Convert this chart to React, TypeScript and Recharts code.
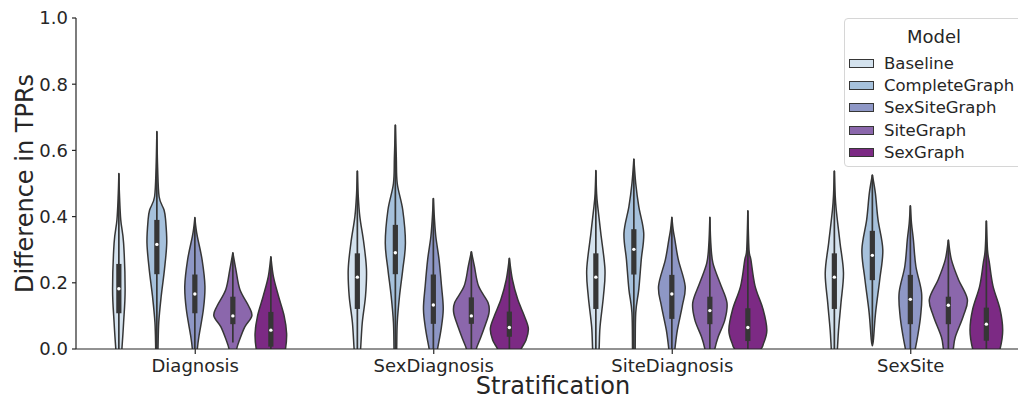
import React from 'react';
import { BarChart, Bar, XAxis, YAxis, Legend } from 'recharts';

const groups = ['Diagnosis', 'SexDiagnosis', 'SiteDiagnosis', 'SexSite'];
const models = ['Baseline', 'CompleteGraph', 'SexSiteGraph', 'SiteGraph', 'SexGraph'];
const colors = ['#d4e2ee', '#a6c1dc', '#8e97c6', '#8b67ac', '#7c2a84'];
const yTicks = [0, 0.2, 0.4, 0.6, 0.8, 1.0];

// inner box per group: [whiskerLo, q1, median, q3, whiskerHi]
const baselineStats = [
  [0, 0.108, 0.182, 0.257, 0.53],
  [0, 0.121, 0.217, 0.289, 0.538],
  [0, 0.121, 0.217, 0.289, 0.539],
  [0, 0.121, 0.217, 0.289, 0.538],
];
const completeStats = [
  [0, 0.226, 0.316, 0.39, 0.657],
  [0, 0.226, 0.291, 0.375, 0.677],
  [0, 0.225, 0.301, 0.362, 0.574],
  [0.02, 0.208, 0.283, 0.357, 0.526],
];
const sexSiteStats = [
  [0, 0.108, 0.166, 0.225, 0.397],
  [0, 0.076, 0.133, 0.225, 0.455],
  [0, 0.091, 0.166, 0.224, 0.398],
  [0, 0.075, 0.15, 0.224, 0.433],
];
const siteStats = [
  [0.02, 0.075, 0.1, 0.158, 0.291],
  [0, 0.076, 0.1, 0.156, 0.294],
  [0, 0.075, 0.116, 0.158, 0.398],
  [0, 0.075, 0.132, 0.158, 0.329],
];
const sexStats = [
  [0, 0.007, 0.057, 0.112, 0.279],
  [0, 0.037, 0.065, 0.113, 0.274],
  [0, 0.024, 0.065, 0.123, 0.418],
  [0, 0.025, 0.075, 0.125, 0.387],
];

// density outline per group, top to bottom: [value, relative half-width]
const baselineDensity = [
  [[0.53, 0], [0.47, 0.03], [0.39, 0.1], [0.32, 0.25], [0.18, 0.33], [0.08, 0.25], [0, 0.16], [-0.04, 0.1]],
  [[0.538, 0], [0.47, 0.04], [0.4, 0.13], [0.32, 0.34], [0.24, 0.48], [0.16, 0.43], [0.08, 0.26], [0, 0.17], [-0.04, 0.1]],
  [[0.539, 0], [0.47, 0.04], [0.43, 0.1], [0.35, 0.26], [0.24, 0.48], [0.16, 0.4], [0.067, 0.22], [0, 0.17], [-0.04, 0.1]],
  [[0.538, 0], [0.47, 0.04], [0.42, 0.1], [0.32, 0.3], [0.23, 0.48], [0.14, 0.35], [0.057, 0.22], [0, 0.16], [-0.04, 0.1]],
];
const completeDensity = [
  [[0.657, 0], [0.55, 0.04], [0.46, 0.12], [0.42, 0.38], [0.39, 0.46], [0.32, 0.52], [0.24, 0.4], [0.16, 0.23], [0.08, 0.1], [0, 0.06], [-0.04, 0.04]],
  [[0.677, 0], [0.58, 0.05], [0.5, 0.1], [0.42, 0.39], [0.32, 0.53], [0.24, 0.39], [0.16, 0.22], [0.08, 0.1], [0, 0.07], [-0.04, 0.05]],
  [[0.574, 0], [0.5, 0.1], [0.43, 0.26], [0.35, 0.52], [0.27, 0.39], [0.18, 0.26], [0.11, 0.1], [0, 0.07], [-0.04, 0.05]],
  [[0.526, 0], [0.47, 0.16], [0.39, 0.3], [0.3, 0.55], [0.21, 0.39], [0.11, 0.17], [0.03, 0.06], [0.01, 0]],
];
const sexSiteDensity = [
  [[0.397, 0], [0.37, 0.05], [0.34, 0.13], [0.27, 0.38], [0.19, 0.53], [0.12, 0.45], [0.04, 0.22], [0, 0.13], [-0.04, 0.08]],
  [[0.455, 0], [0.4, 0.05], [0.34, 0.13], [0.27, 0.3], [0.19, 0.43], [0.12, 0.52], [0.057, 0.4], [0, 0.22], [-0.04, 0.12]],
  [[0.398, 0], [0.36, 0.07], [0.33, 0.16], [0.27, 0.34], [0.19, 0.7], [0.13, 0.55], [0.057, 0.29], [0, 0.16], [-0.04, 0.08]],
  [[0.433, 0], [0.38, 0.06], [0.33, 0.16], [0.25, 0.29], [0.17, 0.59], [0.1, 0.54], [0.037, 0.38], [0, 0.26], [-0.04, 0.15]],
];
const siteDensity = [
  [[0.291, 0], [0.24, 0.16], [0.18, 0.37], [0.13, 0.83], [0.1, 1.0], [0.067, 0.63], [0.027, 0.35], [0, 0.2], [-0.04, 0.1]],
  [[0.294, 0], [0.25, 0.16], [0.19, 0.38], [0.14, 0.88], [0.11, 0.93], [0.067, 0.7], [0.027, 0.44], [0, 0.26], [-0.04, 0.14]],
  [[0.398, 0], [0.32, 0.05], [0.26, 0.16], [0.2, 0.53], [0.14, 0.9], [0.088, 0.79], [0.037, 0.44], [0, 0.26], [-0.04, 0.14]],
  [[0.329, 0], [0.27, 0.16], [0.21, 0.53], [0.15, 1.0], [0.1, 0.79], [0.037, 0.37], [0, 0.26], [-0.04, 0.14]],
];
const sexDensity = [
  [[0.279, 0], [0.22, 0.13], [0.16, 0.4], [0.1, 0.7], [0.047, 0.83], [0, 0.77], [-0.04, 0.6]],
  [[0.274, 0], [0.21, 0.16], [0.15, 0.44], [0.1, 0.79], [0.062, 1.0], [0.027, 0.88], [0, 0.62], [-0.04, 0.35]],
  [[0.418, 0], [0.3, 0.06], [0.27, 0.16], [0.19, 0.38], [0.12, 0.8], [0.057, 1.0], [0.012, 0.8], [0, 0.7], [-0.04, 0.4]],
  [[0.387, 0], [0.3, 0.06], [0.26, 0.16], [0.19, 0.35], [0.12, 0.72], [0.057, 0.86], [0, 0.72], [-0.04, 0.45]],
];

const statsByModel = [baselineStats, completeStats, sexSiteStats, siteStats, sexStats];
const densityByModel = [baselineDensity, completeDensity, sexSiteDensity, siteDensity, sexDensity];

const rows = groups.map((g, gi) => {
  const row: any = { group: g };
  models.forEach((m, mi) => {
    row[m] = [0, densityByModel[mi][gi][0][0]];
  });
  return row;
});

const ink = '#262626';
const boxInk = '#363636';

// catmull-rom through the points, as cubic segments
function smooth(pts: number[][]) {
  let d = '';
  for (let i = 0; i < pts.length - 1; i++) {
    const p0 = pts[i - 1] || pts[i];
    const p1 = pts[i];
    const p2 = pts[i + 1];
    const p3 = pts[i + 2] || p2;
    const c1x = p1[0] + (p2[0] - p0[0]) / 6;
    const c1y = p1[1] + (p2[1] - p0[1]) / 6;
    const c2x = p2[0] - (p3[0] - p1[0]) / 6;
    const c2y = p2[1] - (p3[1] - p1[1]) / 6;
    d += ` C${c1x},${c1y} ${c2x},${c2y} ${p2[0]},${p2[1]}`;
  }
  return d;
}

function makeViolin(mi: number) {
  return (props: any) => {
    const { x, y, width, height, payload } = props;
    const gi = groups.indexOf(payload.group);
    const [lo, hi] = payload[models[mi]];
    const toY = (v: number) => y + (height * (hi - v)) / (hi - lo);
    const cx = x + width / 2;
    const half = width / 2;
    const prof = densityByModel[mi][gi];
    const right = prof.map(([v, w]) => [cx + w * half, toY(v)]);
    const left = prof.slice().reverse().map(([v, w]) => [cx - w * half, toY(v)]);
    const path =
      `M${right[0][0]},${right[0][1]}` + smooth(right) + ` L${left[0][0]},${left[0][1]}` + smooth(left) + ' Z';
    const [wlo, q1, med, q3, whi] = statsByModel[mi][gi];
    return (
      <g>
        <path d={path} fill={colors[mi]} stroke={boxInk} strokeWidth={1.5} strokeLinejoin="round" />
        <line x1={cx} x2={cx} y1={toY(wlo)} y2={toY(whi)} stroke={boxInk} strokeWidth={1.7} />
        <rect x={cx - 2.6} width={5.2} y={toY(q3)} height={toY(q1) - toY(q3)} fill={boxInk} />
        <circle cx={cx} cy={toY(med)} r={1.7} fill="#fff" />
      </g>
    );
  };
}

function ModelLegend(props: any) {
  const payload = (props.payload || [])
    .slice()
    .sort((a: any, b: any) => models.indexOf(a.value) - models.indexOf(b.value));
  return (
    <div
      style={{
        width: 178,
        border: '1px solid #d6d6d6',
        borderRadius: 4,
        background: 'rgba(255,255,255,0.8)',
        paddingTop: 6,
        paddingBottom: 2,
        color: ink,
        fontFamily: 'DejaVu Sans',
      }}
    >
      <div style={{ textAlign: 'center', fontSize: 18, lineHeight: '24px', height: 24, marginBottom: 3 }}>Model</div>
      {payload.map((p: any) => (
        <div key={p.value} style={{ display: 'flex', alignItems: 'center', height: 22.4 }}>
          <span
            style={{
              display: 'inline-block',
              marginLeft: 4,
              width: 25,
              height: 9,
              boxSizing: 'border-box',
              background: p.color,
              border: `1.3px solid ${boxInk}`,
            }}
          />
          <span style={{ marginLeft: 10, fontSize: 16.5, whiteSpace: 'nowrap' }}>{p.value}</span>
        </div>
      ))}
    </div>
  );
}

export default function App() {
  return (
    <div
      style={{
        position: 'fixed',
        left: 0,
        top: 0,
        width: 1018,
        height: 400,
        overflow: 'hidden',
        background: '#fff',
        fontFamily: 'DejaVu Sans',
      }}
    >
      <BarChart
        width={1040}
        height={400}
        data={rows}
        margin={{ top: 18, right: 10, left: 10, bottom: 0 }}
        barCategoryGap="10%"
        barGap={0}
      >
        {models.map((m, mi) => (
          <Bar
            key={m}
            dataKey={m}
            name={m}
            fill={colors[mi]}
            shape={makeViolin(mi)}
            isAnimationActive={false}
          />
        ))}
        <XAxis
          dataKey="group"
          height={51}
          tickSize={5}
          tickMargin={5}
          tick={{ fontSize: 18, fill: ink }}
          axisLine={{ stroke: ink, strokeWidth: 1.2 }}
          tickLine={{ stroke: ink, strokeWidth: 1.2 }}
          label={{ value: 'Stratification', position: 'insideBottom', offset: 6, fontSize: 24, fill: ink }}
        />
        <YAxis
          type="number"
          domain={[0, 1]}
          ticks={yTicks}
          allowDataOverflow
          width={66}
          tickSize={4}
          tickMargin={4}
          tickFormatter={(v: number) => v.toFixed(1)}
          tick={{ fontSize: 18, fill: ink }}
          axisLine={{ stroke: ink, strokeWidth: 1.2 }}
          tickLine={{ stroke: ink, strokeWidth: 1.2 }}
          label={{
            content: (lp: any) => {
              const vb = lp.viewBox || { x: 10, y: 18, width: 66, height: 331 };
              const cx = 33;
              const cy = vb.y + vb.height / 2;
              return (
                <text x={cx} y={cy} transform={`rotate(-90 ${cx} ${cy})`} textAnchor="middle" fontSize={24} fill={ink}>
                  Difference in TPRs
                </text>
              );
            },
          }}
        />
        <Legend
          layout="vertical"
          align="center"
          verticalAlign="middle"
          wrapperStyle={{ left: 844, top: 18, width: 180, height: 'auto' }}
          content={ModelLegend}
        />
      </BarChart>
    </div>
  );
}
